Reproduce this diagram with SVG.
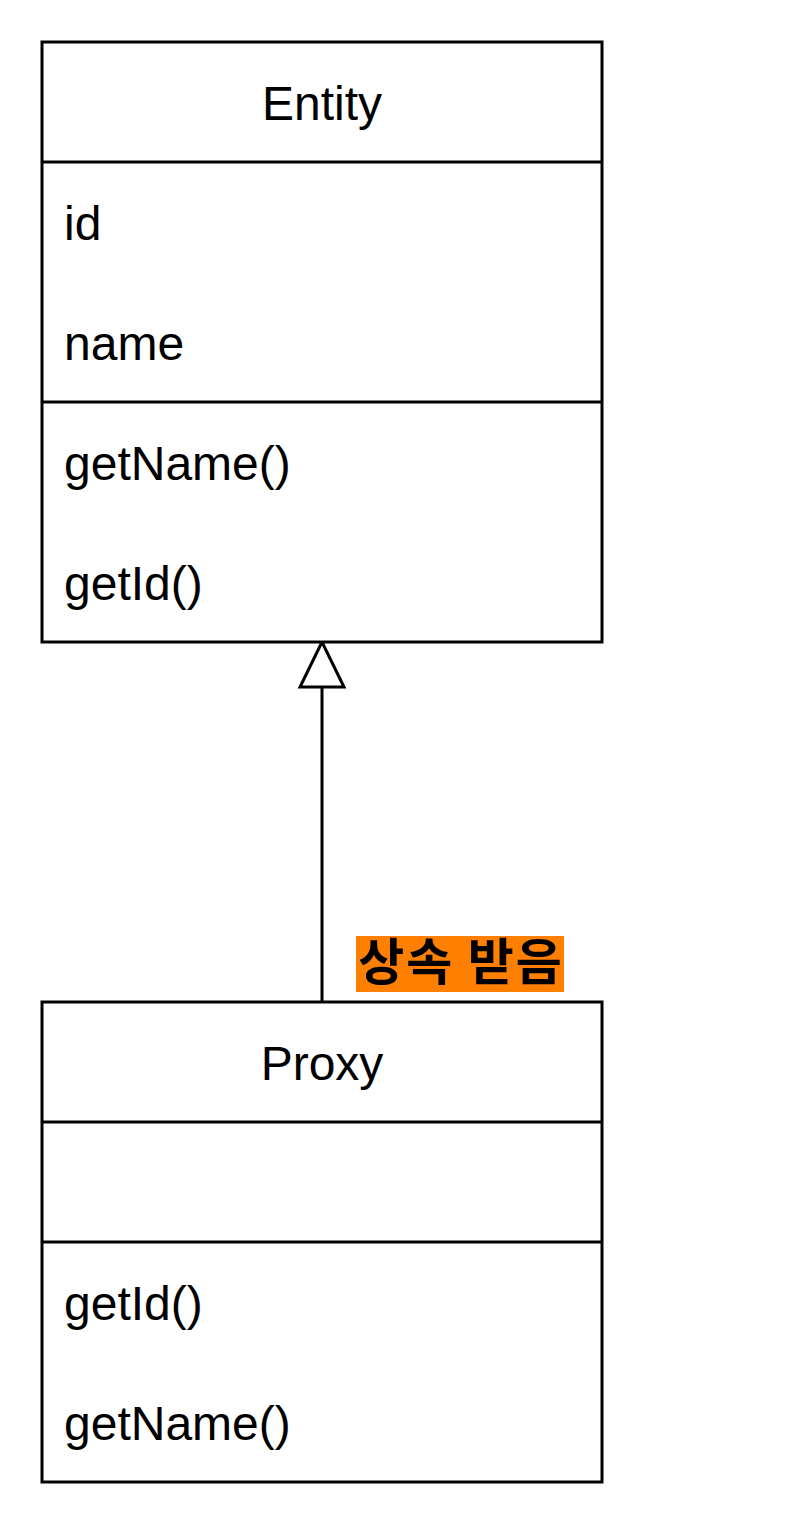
<svg xmlns="http://www.w3.org/2000/svg" width="804" height="1524" viewBox="0 0 804 1524">
<style>
.box{fill:#fff;stroke:#000;stroke-width:3}
.ln{stroke:#000;stroke-width:3;fill:none}
.t{font-family:"Liberation Sans",Arial,sans-serif;font-size:48px;fill:#000}
.c{text-anchor:middle}
.lbl{font-family:"Noto Sans CJK KR","Liberation Sans",sans-serif;font-size:50px;font-weight:bold;fill:#000;text-anchor:middle;letter-spacing:2px}
</style>
<rect width="804" height="1524" fill="#fff"/>
<g id="connectors">
<line class="ln" x1="322" y1="1002" x2="322" y2="687"/>
<polygon points="322,642 344,687 300,687" fill="#fff" stroke="#000" stroke-width="3"/>
<rect x="356" y="936" width="208" height="56" fill="#ff8000"/>
<text class="lbl" x="461" y="980">상속 받음</text>
</g>
<g id="entity">
<rect class="box" x="42" y="42" width="560" height="600"/>
<line class="ln" x1="42" y1="162" x2="602" y2="162"/>
<line class="ln" x1="42" y1="402" x2="602" y2="402"/>
<text class="t c" x="322" y="120">Entity</text>
<text class="t" x="64" y="240">id</text>
<text class="t" x="64" y="360">name</text>
<text class="t" x="64" y="480">getName()</text>
<text class="t" x="64" y="600">getId()</text>
</g>
<g id="proxy">
<rect class="box" x="42" y="1002" width="560" height="480"/>
<line class="ln" x1="42" y1="1122" x2="602" y2="1122"/>
<line class="ln" x1="42" y1="1242" x2="602" y2="1242"/>
<text class="t c" x="322" y="1080">Proxy</text>
<text class="t" x="64" y="1320">getId()</text>
<text class="t" x="64" y="1440">getName()</text>
</g>
</svg>
